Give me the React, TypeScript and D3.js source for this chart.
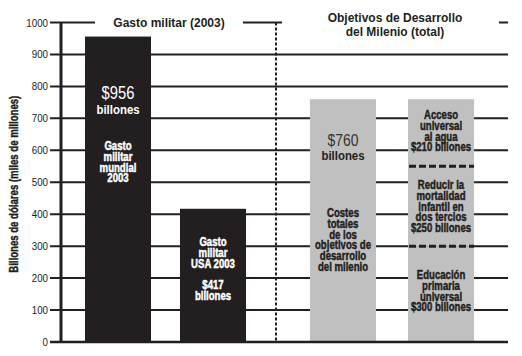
import React from "react";
import * as d3 from "d3";

const militaryCategories = ["Gasto militar mundial 2003", "Gasto militar USA 2003"];
const militaryValues = [956, 417];
const mdgCategories = ["Costes totales", "Desglose"];
const mdgTotal = 760;
const mdgComponentNames = ["Educación primaria universal", "Reducir la mortalidad infantil en dos tercios", "Acceso universal al agua"];
const mdgComponentValues = [300, 250, 210];
const yTicks = [0, 100, 200, 300, 400, 500, 600, 700, 800, 900, 1000];
const yTitle = "Billones de dólares (miles de millones)";
const leftTitle = "Gasto militar (2003)";
const rightTitle = ["Objetivos de Desarrollo", "del Milenio (total)"];

const W = 522;
const H = 356;
const DARK = "#231f20";
const GRAY = "#c0c0c0";
const SANS = "'Liberation Sans',Arial,sans-serif";

function NText({ x, y, children, size = 11, bold = true, fill = DARK, sx = 0.76, anchor = "middle", rotate = 0, heavy = 0 }: any) {
  return (
    <text
      transform={`translate(${x},${y})${rotate ? ` rotate(${rotate})` : ""} scale(${sx},1)`}
      textAnchor={anchor}
      fontFamily={SANS}
      fontWeight={bold ? "bold" : "normal"}
      fontSize={size}
      fill={fill}
      stroke={heavy ? fill : "none"}
      strokeWidth={heavy}
    >
      {children}
    </text>
  );
}

export default function App() {
  const y = d3.scaleLinear().domain([0, 1000]).range([342, 22.5]);
  const xL = d3.scaleBand<string>().domain(militaryCategories).range([70.5, 260.5]).paddingInner(0.305).paddingOuter(0.1525);
  const xR = d3.scaleBand<string>().domain(mdgCategories).range([294, 490]).paddingInner(0.3265).paddingOuter(0.163);
  const gridX0 = 50;
  const gridX1 = 508;
  const axisX = 61;
  const dividerX = 276;

  const stacked = d3.stack<any>().keys(mdgComponentNames)([
    Object.fromEntries(mdgComponentNames.map((n, i) => [n, mdgComponentValues[i]])),
  ]);

  const bw = xL.bandwidth();
  const c1 = xL(militaryCategories[0])! + bw / 2;
  const c2 = xL(militaryCategories[1])! + bw / 2;
  const c3 = xR(mdgCategories[0])! + xR.bandwidth() / 2;
  const c4 = xR(mdgCategories[1])! + xR.bandwidth() / 2;

  const lines = (x: number, y0: number, arr: string[], fill: string, size = 12, lh = 10.8) =>
    arr.map((t, i) => (
      <NText key={t + i} x={x} y={y0 + i * lh} fill={fill} size={size} sx={0.8} heavy={0.45}>
        {t}
      </NText>
    ));

  return (
    <svg width={W} height={H} style={{ position: "absolute", left: 0, top: 0, background: "#fff" }}>
      {yTicks.filter((t) => t > 0 && t < 1000).map((t) => (
        <line key={t} x1={gridX0} x2={gridX1} y1={y(t)} y2={y(t)} stroke={DARK} strokeWidth={2} />
      ))}
      {[[gridX0, 95], [243, 282], [499, gridX1]].map(([a, b], i) => (
        <line key={i} x1={a} x2={b} y1={y(1000)} y2={y(1000)} stroke={DARK} strokeWidth={2} />
      ))}
      {militaryValues.map((v, i) => (
        <rect key={i} x={xL(militaryCategories[i])} width={bw} y={y(v)} height={y(0) - y(v)} fill={DARK} />
      ))}
      <rect x={xR(mdgCategories[0])} width={xR.bandwidth()} y={y(mdgTotal)} height={y(0) - y(mdgTotal)} fill={GRAY} />
      {stacked.map((s) => (
        <rect key={s.key} x={xR(mdgCategories[1])} width={xR.bandwidth()} y={y(s[0][1])} height={y(s[0][0]) - y(s[0][1])} fill={GRAY} />
      ))}
      {stacked.slice(0, 2).map((s) => (
        <line key={s.key} x1={xR(mdgCategories[1])! + 1} x2={xR(mdgCategories[1])! + xR.bandwidth()} y1={y(s[0][1])} y2={y(s[0][1])} stroke={DARK} strokeWidth={3} strokeDasharray="7,3" />
      ))}
      <line x1={axisX} x2={axisX} y1={y(1000)} y2={y(0)} stroke={DARK} strokeWidth={3} />
      <line x1={gridX0} x2={gridX1} y1={y(0)} y2={y(0)} stroke={DARK} strokeWidth={2.5} />
      <line x1={dividerX} x2={dividerX} y1={y(1000)} y2={y(0)} stroke={DARK} strokeWidth={2} strokeDasharray="3,2" />
      {yTicks.map((t) => (
        <NText key={t} x={48} y={y(t) + 4} anchor="end" bold={false} size={11.5} sx={0.85}>
          {t}
        </NText>
      ))}
      <NText x={18} y={(y(0) + y(1000)) / 2 + 2} rotate={-90} size={12} sx={0.8} heavy={0.4}>
        {yTitle}
      </NText>
      <text x={169} y={y(1000) + 4.5} textAnchor="middle" fontFamily={SANS} fontWeight="bold" fontSize={12} fill={DARK}>
        {leftTitle}
      </text>
      {rightTitle.map((t, i) => (
        <text key={t} x={395} y={22 + i * 13.5} textAnchor="middle" fontFamily={SANS} fontWeight="bold" fontSize={12} fill={DARK}>
          {t}
        </text>
      ))}
      <NText x={c1} y={99} bold={false} size={18} sx={0.82} fill="#fff">{"$" + militaryValues[0]}</NText>
      <NText x={c1} y={114} size={13} sx={0.88} fill="#fff">billones</NText>
      {lines(c1, 150, ["Gasto", "militar", "mundial", "2003"], "#fff")}
      {lines(c2, 246, ["Gasto", "militar", "USA 2003"], "#fff")}
      {lines(c2, 289, ["$" + militaryValues[1], "billones"], "#fff")}
      <NText x={c3} y={145.5} bold={false} size={17} sx={0.82} fill="#333">{"$" + mdgTotal}</NText>
      <NText x={c3} y={160} size={13} sx={0.88}>billones</NText>
      {lines(c3, 217, ["Costes", "totales", "de los", "objetivos de", "desarrollo", "del milenio"], DARK)}
      {lines(c4, 119, ["Acceso", "universal", "al agua", "$" + mdgComponentValues[2] + " billones"], DARK)}
      {lines(c4, 189, ["Reducir la", "mortalidad", "infantil en", "dos tercios", "$" + mdgComponentValues[1] + " billones"], DARK)}
      {lines(c4, 279, ["Educación", "primaria", "universal", "$" + mdgComponentValues[0] + " billones"], DARK)}
    </svg>
  );
}
